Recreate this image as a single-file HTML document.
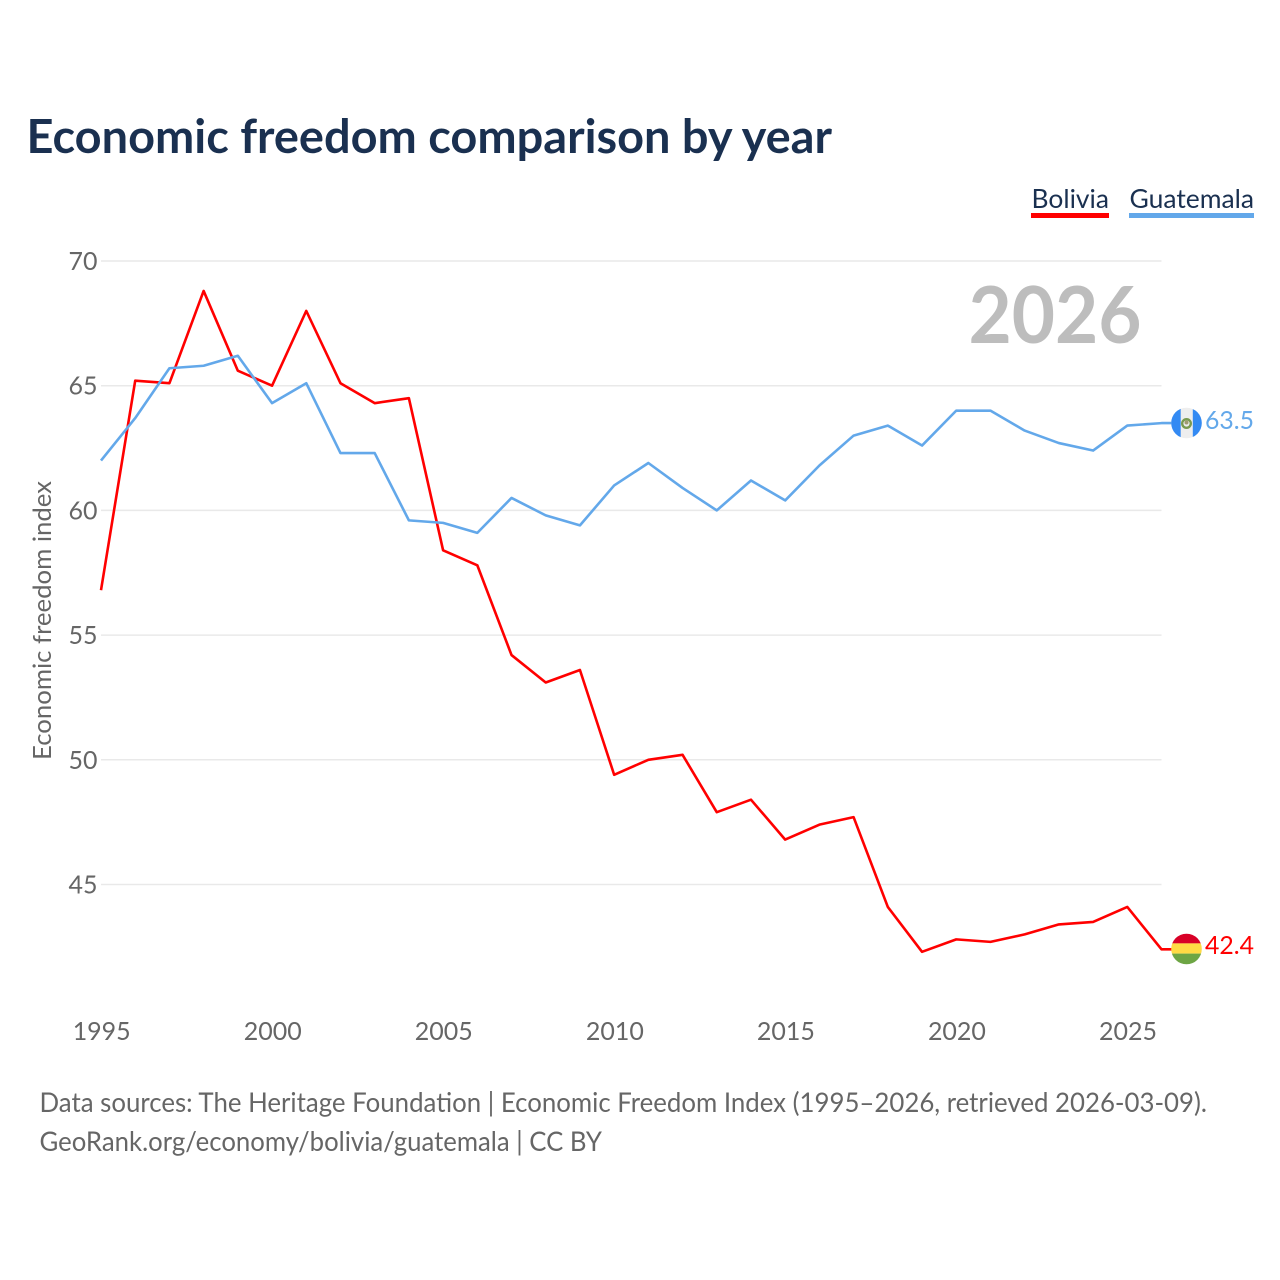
<!DOCTYPE html>
<html><head><meta charset="utf-8"><title>Economic freedom comparison by year</title>
<style>html,body{margin:0;padding:0;background:#fff}svg{display:block}text{font-family:"Lato","Carlito","Liberation Sans",sans-serif}</style></head>
<body>
<svg id="chart" xmlns="http://www.w3.org/2000/svg" width="1280" height="1280" viewBox="0 0 1280 1280">
<rect width="1280" height="1280" fill="#fff"/>
<text x="26.5" y="153" font-size="47" font-weight="700" fill="#1a3050" textLength="805.5" lengthAdjust="spacingAndGlyphs">Economic freedom comparison by year</text>
<text x="1031.5" y="208" font-size="26.5" fill="#1a3050" textLength="77.5" lengthAdjust="spacingAndGlyphs">Bolivia</text>
<rect x="1031" y="213" width="78" height="5" fill="#ff0000"/>
<text x="1129.5" y="208" font-size="26.5" fill="#1a3050" textLength="124.5" lengthAdjust="spacingAndGlyphs">Guatemala</text>
<rect x="1129" y="213" width="125" height="5" fill="#63a8ea"/>
<g id="grid"></g>
<g id="yticks"></g>
<g id="xticks"></g>
<text transform="translate(51,760) rotate(-90)" font-size="25.5" fill="#666" textLength="279" lengthAdjust="spacingAndGlyphs">Economic freedom index</text>
<text x="968.5" y="343" font-size="79" font-weight="700" fill="#bdbdbd" textLength="173" lengthAdjust="spacingAndGlyphs">2026</text>
<path id="line-bolivia" fill="none" stroke="#ff0000" stroke-width="2.6" stroke-linejoin="round"/>
<path id="line-guatemala" fill="none" stroke="#63a8ea" stroke-width="2.6" stroke-linejoin="round"/>
<g>
<clipPath id="clip-gt"><circle cx="1186.5" cy="423" r="15.3"/></clipPath>
<g clip-path="url(#clip-gt)">
<rect x="1171" y="407" width="31" height="32" fill="#eeeeee"/>
<rect x="1171" y="407" width="9.7" height="32" fill="#338af3"/>
<rect x="1192.8" y="407" width="9.2" height="32" fill="#338af3"/>
<circle cx="1186.5" cy="423.5" r="4.3" fill="none" stroke="#7a9a50" stroke-width="2.4"/>
<circle cx="1186.5" cy="422.5" r="2" fill="#a09a70"/>
</g></g>
<g>
<clipPath id="clip-bo"><circle cx="1186.5" cy="949" r="15.3"/></clipPath>
<g clip-path="url(#clip-bo)">
<rect x="1171" y="933" width="31" height="10.4" fill="#d80027"/>
<rect x="1171" y="943.4" width="31" height="10.2" fill="#ffda44"/>
<rect x="1171" y="953.6" width="31" height="11" fill="#6da544"/>
</g></g>
<text id="end-guatemala" x="1205" y="429" font-size="25.5" fill="#63a8ea" textLength="49" lengthAdjust="spacingAndGlyphs"></text>
<text id="end-bolivia" x="1205" y="954" font-size="25.5" fill="#ff0000" textLength="49" lengthAdjust="spacingAndGlyphs"></text>
<text x="39.5" y="1112" font-size="27" fill="#666" textLength="1167.5" lengthAdjust="spacingAndGlyphs">Data sources: The Heritage Foundation | Economic Freedom Index (1995–2026, retrieved 2026-03-09).</text>
<text x="39.5" y="1151" font-size="27" fill="#666" textLength="562.5" lengthAdjust="spacingAndGlyphs">GeoRank.org/economy/bolivia/guatemala | CC BY</text>
</svg>
<script>
const years = [1995,1996,1997,1998,1999,2000,2001,2002,2003,2004,2005,2006,2007,2008,2009,2010,2011,2012,2013,2014,2015,2016,2017,2018,2019,2020,2021,2022,2023,2024,2025,2026];
const bolivia = [56.8,65.2,65.1,68.8,65.6,65.0,68.0,65.1,64.3,64.5,58.4,57.8,54.2,53.1,53.6,49.4,50.0,50.2,47.9,48.4,46.8,47.4,47.7,44.1,42.3,42.8,42.7,43.0,43.4,43.5,44.1,42.4];
const guatemala = [62.0,63.7,65.7,65.8,66.2,64.3,65.1,62.3,62.3,59.6,59.5,59.1,60.5,59.8,59.4,61.0,61.9,60.9,60.0,61.2,60.4,61.8,63.0,63.4,62.6,64.0,64.0,63.2,62.7,62.4,63.4,63.5];
const yTickValues = [45,50,55,60,65,70];
const xTickValues = [1995,2000,2005,2010,2015,2020,2025];

const NS = 'http://www.w3.org/2000/svg';
function xScale(y){ return 101 + (y - 1995) * (1161.5 - 101) / 31; }
function yScale(v){ return 261 + (70 - v) * (884.5 - 261) / 25; }
function linePath(vals){
  const d = vals.map(function(v,i){ return (i ? 'L' : 'M') + xScale(years[i]).toFixed(2) + ' ' + yScale(v).toFixed(2); }).join('');
  return d + 'H1172';
}
const grid = document.getElementById('grid');
const yG = document.getElementById('yticks');
const xG = document.getElementById('xticks');
yTickValues.forEach(function(v){
  const l = document.createElementNS(NS,'line');
  
  
  l.setAttribute('x1', 101); l.setAttribute('x2', 1161.5);
  l.setAttribute('y1', yScale(v)); l.setAttribute('y2', yScale(v));
  l.setAttribute('stroke', '#e9e9e9'); l.setAttribute('stroke-width', '1.5');
  grid.appendChild(l);
  const t = document.createElementNS(NS,'text');
  
  
  t.setAttribute('x', 97.5); t.setAttribute('y', yScale(v) + 9);
  t.setAttribute('text-anchor', 'end'); t.setAttribute('font-size', '25.5'); t.setAttribute('fill', '#666');
  t.setAttribute('textLength', '29'); t.setAttribute('lengthAdjust', 'spacingAndGlyphs');
  t.textContent = v;
  yG.appendChild(t);
});
xTickValues.forEach(function(v){
  const t = document.createElementNS(NS,'text');
  
  
  t.setAttribute('x', xScale(v) + 0.7); t.setAttribute('y', 1040);
  t.setAttribute('text-anchor', 'middle'); t.setAttribute('font-size', '25.5'); t.setAttribute('fill', '#666');
  t.setAttribute('textLength', '58'); t.setAttribute('lengthAdjust', 'spacingAndGlyphs');
  t.textContent = v;
  xG.appendChild(t);
});
document.getElementById('line-bolivia').setAttribute('d', linePath(bolivia));
document.getElementById('line-guatemala').setAttribute('d', linePath(guatemala));
document.getElementById('end-bolivia').textContent = bolivia[bolivia.length-1].toFixed(1);
document.getElementById('end-guatemala').textContent = guatemala[guatemala.length-1].toFixed(1);
</script>
</body></html>
